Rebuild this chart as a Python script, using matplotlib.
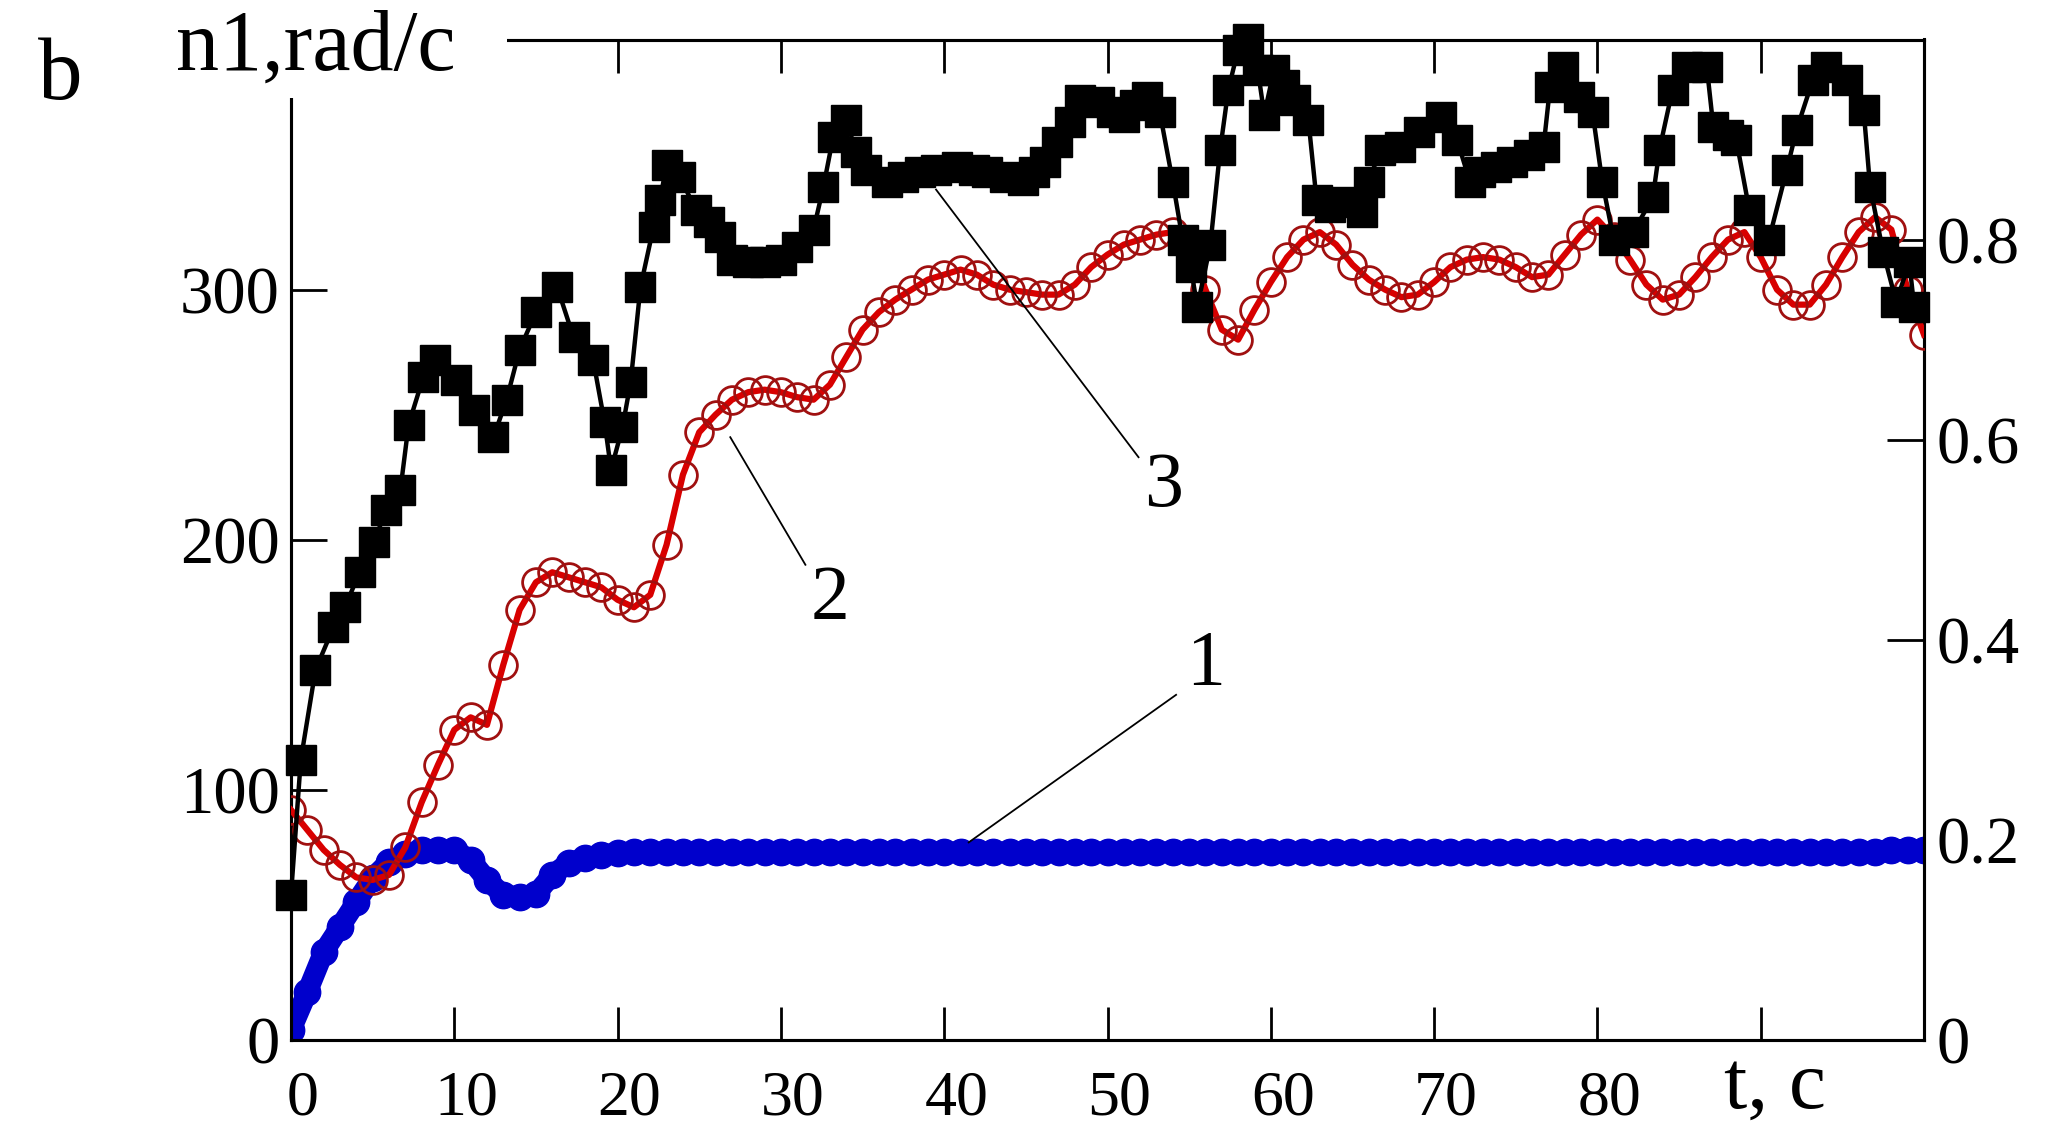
import numpy as np
import matplotlib
matplotlib.use("Agg")
import matplotlib.pyplot as plt
from matplotlib.patches import Rectangle
from matplotlib.transforms import ScaledTranslation

plt.rcParams['font.family'] = ['Liberation Serif', 'DejaVu Serif']

# ---------------- data ----------------
# curve 2 (red, open circles), n1 in rad/c, sampled every second
t_red = np.arange(0, 101)
red = [92, 84, 76, 70, 65, 64, 66, 77, 95, 110,
       124, 129, 126, 150, 172, 183, 187, 185, 183, 181,
       176, 173, 178, 198, 226, 243, 250, 256, 259, 260,
       259, 257, 256, 262, 273, 284, 291, 296, 300, 304,
       306, 308, 306, 302, 300, 299, 298, 298, 302, 309,
       314, 318, 320, 322, 323, 318, 300, 284, 280, 292,
       303, 313, 320, 323, 318, 310, 304, 300, 297, 298,
       303, 309, 312, 313, 312, 309, 305, 306, 314, 322,
       328, 321, 312, 302, 296, 298, 305, 313, 320, 323,
       313, 300, 294, 294, 302, 313, 323, 329, 324, 300,
       282]

# curve 1 (blue, filled circles), right axis units, sampled every second
t_blue = np.arange(0, 101)
blue = [0.010, 0.048, 0.088, 0.113, 0.138, 0.162, 0.178, 0.186, 0.190, 0.190,
        0.190, 0.180, 0.160, 0.145, 0.143, 0.146, 0.165, 0.177, 0.182, 0.185,
        0.187, 0.188, 0.188, 0.188, 0.188, 0.188, 0.188, 0.188, 0.188, 0.188,
        0.188, 0.188, 0.188, 0.188, 0.188, 0.188, 0.188, 0.188, 0.188, 0.188,
        0.188, 0.188, 0.188, 0.188, 0.188, 0.188, 0.188, 0.188, 0.188, 0.188,
        0.188, 0.188, 0.188, 0.188, 0.188, 0.188, 0.188, 0.188, 0.188, 0.188,
        0.188, 0.188, 0.188, 0.188, 0.188, 0.188, 0.188, 0.188, 0.188, 0.188,
        0.188, 0.188, 0.188, 0.188, 0.188, 0.188, 0.188, 0.188, 0.188, 0.188,
        0.188, 0.188, 0.188, 0.188, 0.188, 0.188, 0.188, 0.188, 0.188, 0.188,
        0.188, 0.188, 0.188, 0.188, 0.188, 0.188, 0.188, 0.188, 0.190, 0.190,
        0.190]

# curve 3 (black, filled squares), n1 in rad/c
t_blk = [0, 0.6, 1.5, 2.6, 3.3, 4.2, 5.1, 5.8, 6.7, 7.2,
         8.1, 8.8, 10.1, 11.2, 12.4, 13.2, 14.0, 15.0, 16.3, 17.3,
         18.5, 19.2, 19.6, 20.3, 20.8, 21.4, 22.2, 22.6, 23.0, 23.8,
         24.8, 25.6, 26.3, 27.0, 28.0, 29.0, 30.0, 31.0, 32.0, 32.6,
         33.2, 34.0, 34.6, 35.2, 36.5, 37.5, 38.5, 39.5, 40.8, 41.8,
         42.6, 43.7, 44.8, 45.5, 46.2, 46.9, 47.7, 48.3, 49.5, 50.3,
         51.0, 51.7, 52.4, 53.2, 54.0, 54.6, 55.1, 55.5, 56.3, 56.9,
         57.4, 58.0, 58.6, 59.2, 59.6, 60.2, 60.8, 61.5, 62.3, 62.8,
         63.6, 64.6, 65.6, 66.0, 66.7, 67.9, 69.1, 70.4, 71.4, 72.2,
         72.8, 73.8, 74.8, 75.8, 76.7, 77.1, 77.9, 78.9, 79.7, 80.3,
         81.0, 82.2, 83.4, 83.8, 84.6, 85.5, 86.7, 87.1, 88.0, 88.5,
         89.3, 90.5, 91.6, 92.2, 93.2, 94.0, 95.3, 96.3, 96.7, 97.5,
         98.3, 99.1, 99.4]
blk = [58, 112, 148, 165, 173, 187, 199, 212, 220, 246,
       265, 272, 264, 252, 241, 256, 276, 291, 301, 281,
       272, 247, 228, 245, 263, 301, 325, 336, 350, 345,
       332, 327, 321, 312, 311, 311, 312, 317, 324, 341,
       361, 368, 355, 348, 343, 345, 347, 348, 349, 348,
       347, 345, 344, 347, 351, 359, 367, 376, 375, 371,
       369, 374, 377, 371, 343, 320, 309, 293, 318, 356,
       380, 396, 400, 388, 370, 388, 382, 376, 368, 336,
       333, 335, 331, 343, 356, 357, 363, 369, 360, 343,
       347, 349, 351, 354, 357, 381, 389, 377, 371, 343,
       320, 323, 337, 356, 380, 389, 389, 365, 362, 360,
       332, 320, 348, 364, 384, 389, 384, 372, 341, 315,
       295, 311, 293]

x_ticks = [0, 10, 20, 30, 40, 50, 60, 70, 80, 90]
x_labels = ['0', '10', '20', '30', '40', '50', '60', '70', '80', '']
yl_ticks = [0, 100, 200, 300]
yr_ticks = [0, 0.2, 0.4, 0.6, 0.8]
yr_labels = ['0', '0.2', '0.4', '0.6', '0.8']

# ---------------- figure ----------------
W, H = 2065, 1132
fig = plt.figure(figsize=(W / 100, H / 100), dpi=100)
x0, x1, ybot, ytop = 291, 1924, 1040, 39.5
ax = fig.add_axes([x0 / W, 1 - ybot / H, (x1 - x0) / W, (ybot - ytop) / H])
ax2 = ax.twinx()
ax.set_zorder(ax2.get_zorder() + 1)
ax.patch.set_visible(False)

ax.set_xlim(0, 100)
ax.set_ylim(0, 400)
ax2.set_ylim(0, 1.0)

# curves
ax2.plot(t_blue, blue, '-', color='#0000cc', lw=15, marker='o', ms=19,
         mfc='#0000cc', mec='#0000cc', zorder=2, solid_capstyle='round')
ax.plot(t_red, red, '-', color='#d80000', lw=4.5, marker='o', ms=20,
        mfc='none', mec='#a01010', mew=2.0, zorder=3)
ax.plot(t_blk, blk, '-', color='black', lw=3.2, marker='s', ms=21,
        mfc='black', mec='black', zorder=4, clip_on=False)

# leader lines and numbers
ax.plot([41.5, 54.2], [79, 138], color='black', lw=1.3, zorder=5)
ax.plot([26.9, 31.5], [241, 190], color='black', lw=1.3, zorder=5)
ax.plot([39.5, 51.9], [340, 233], color='black', lw=1.3, zorder=5)
ax.text(56.0, 150, '1', fontsize=56, ha='center', va='center', zorder=6)
ax.text(33.0, 176, '2', fontsize=56, ha='center', va='center', zorder=6)
ax.text(53.4, 221, '3', fontsize=56, ha='center', va='center', zorder=6)

# axes styling
for a in (ax, ax2):
    for s in a.spines.values():
        s.set_linewidth(2.2)
ax.set_xticks(x_ticks)
ax.set_xticklabels(x_labels)
ax.set_yticks(yl_ticks)
ax.set_yticklabels([str(v) for v in yl_ticks])
ax.tick_params(axis='x', direction='in', length=24, width=2, labelsize=46,
               pad=22, top=True, bottom=True)
ax.tick_params(axis='y', direction='in', length=26, width=2, labelsize=48,
               pad=8, left=True, right=False)
ax2.set_yticks(yr_ticks)
ax2.set_yticklabels(yr_labels)
ax2.tick_params(axis='y', direction='in', length=27, width=2, labelsize=48,
                pad=9)

off = ScaledTranslation(12 / 100, 0, fig.dpi_scale_trans)
for lab in ax.get_xticklabels():
    lab.set_transform(lab.get_transform() + off)

# cover the top-left corner behind the y-axis title
fig.patches.append(Rectangle((165 / W, 1 - 98 / H), (507 - 165) / W, 98 / H,
                             transform=fig.transFigure, facecolor='white',
                             edgecolor='none', zorder=10))
fig.text(176 / W, 1 - 70 / H, 'n1,rad/c', fontsize=62, ha='left',
         va='baseline', zorder=11)
fig.text(38 / W, 1 - 99 / H, 'b', fontsize=64, ha='left', va='baseline',
         zorder=11)
fig.text(1775 / W, 1 - 1108 / H, 't, c', fontsize=60, ha='center',
         va='baseline', zorder=11)

fig.savefig('out.png', dpi=100, facecolor='white')
